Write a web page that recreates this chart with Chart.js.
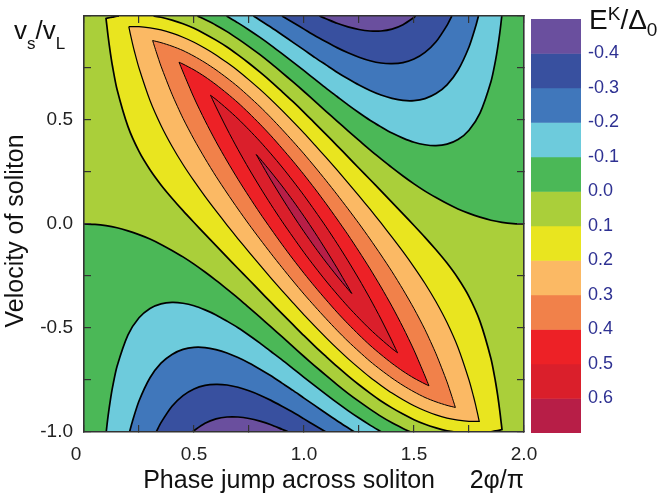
<!DOCTYPE html>
<html>
<head>
<meta charset="utf-8">
<script src="https://cdn.jsdelivr.net/npm/chart.js@4.4.1/dist/chart.umd.min.js"></script>
<style>
html,body{margin:0;padding:0;background:#fff;}
#wrap{position:relative;width:658px;height:498px;overflow:hidden;font-family:'Liberation Sans',Arial,Helvetica,sans-serif;}
#main{position:absolute;left:0;top:0;}
#cbar{position:absolute;left:531px;top:0;}
.lbl{position:absolute;white-space:nowrap;color:#111;}
.sb{font-size:17px;position:relative;top:10px;}
.sp2{font-size:19px;position:relative;top:-9px;}
.sb2{font-size:19px;position:relative;top:7px;}
</style>
</head>
<body>
<div id="wrap">
  <canvas id="main" width="658" height="498"></canvas>
  <canvas id="cbar" width="127" height="498"></canvas>
  <div class="lbl" style="left:14px;top:17px;font-size:26px;line-height:26px;">v<span class="sb">s</span>/v<span class="sb">L</span></div>
  <div class="lbl" style="left:589px;top:6px;font-size:28px;line-height:28px;">E<span class="sp2">K</span>/&Delta;<span class="sb2">0</span></div>
</div>
<script>
// ---------------- data (contour positions) ----------------
const X_RANGE = [0, 2];
const Y_RANGE = [-1, 1];
const X_TICK_VALUES = [0, 0.5, 1, 1.5, 2];
const X_TICK_LABELS = ['0\u2007 ', '0.5', '1.0', '1.5', '2.0'];
const Y_TICK_VALUES = [-1, -0.5, 0, 0.5];
const Y_TICK_LABELS = ['-1.0', '-0.5', '0.0', '0.5'];
const LEVELS = [-0.4, -0.3, -0.2, -0.1, 0.0, 0.1, 0.2, 0.3, 0.4, 0.5, 0.6];
const LEVEL_LABELS = ['-0.4', '-0.3', '-0.2', '-0.1', '0.0', '0.1', '0.2', '0.3', '0.4', '0.5', '0.6'];
const BAND_EDGES = [-0.5, -0.4, -0.3, -0.2, -0.1, 0.0, 0.1, 0.2, 0.3, 0.4, 0.5, 0.6, 0.7];
const BAND_COLORS = ['#6a4f9e', '#38509f', '#4077bb', '#6dcbdc', '#4bb857', '#aacf3a',
                     '#e9e51f', '#fbb964', '#f1814a', '#ed2126', '#da1f2b', '#b71e47'];

// contour E = -0.4 (lower and upper lobes)
const M04_LOW = [[0.493,-1.000],[0.500,-0.993],[0.550,-0.958],[0.600,-0.937],[0.650,-0.928],[0.700,-0.928],[0.750,-0.935],[0.800,-0.948],[0.850,-0.965],[0.900,-0.987],[0.930,-1.000]];
const M04_UP  = [[1.507,1.000],[1.500,0.993],[1.450,0.958],[1.400,0.937],[1.350,0.928],[1.300,0.928],[1.250,0.935],[1.200,0.948],[1.150,0.965],[1.100,0.987],[1.070,1.000]];
// contour E = -0.3
const M03_LOW = [[0.328,-1.000],[0.350,-0.955],[0.400,-0.876],[0.450,-0.825],[0.500,-0.793],[0.550,-0.776],[0.600,-0.771],[0.650,-0.774],[0.700,-0.785],[0.750,-0.802],[0.800,-0.823],[0.850,-0.848],[0.900,-0.876],[0.950,-0.905],[1.000,-0.937],[1.050,-0.969],[1.100,-1.000]];
const M03_UP  = [[1.672,1.000],[1.650,0.955],[1.600,0.876],[1.550,0.825],[1.500,0.793],[1.450,0.776],[1.400,0.771],[1.350,0.774],[1.300,0.785],[1.250,0.802],[1.200,0.823],[1.150,0.848],[1.100,0.876],[1.050,0.905],[1.000,0.937],[0.950,0.969],[0.900,1.000]];
// contour E = -0.2
const M02_LOW = [[0.207,-1.000],[0.220,-0.949],[0.250,-0.851],[0.300,-0.739],[0.350,-0.669],[0.400,-0.627],[0.450,-0.603],[0.500,-0.593],[0.550,-0.594],[0.600,-0.604],[0.650,-0.620],[0.700,-0.642],[0.750,-0.668],[0.800,-0.698],[0.850,-0.730],[0.900,-0.765],[0.950,-0.800],[1.000,-0.837],[1.050,-0.873],[1.100,-0.910],[1.150,-0.946],[1.200,-0.980],[1.230,-1.000]];
const M02_UP  = [[1.793,1.000],[1.780,0.949],[1.750,0.851],[1.700,0.739],[1.650,0.669],[1.600,0.627],[1.550,0.603],[1.500,0.593],[1.450,0.594],[1.400,0.604],[1.350,0.620],[1.300,0.642],[1.250,0.668],[1.200,0.698],[1.150,0.730],[1.100,0.765],[1.050,0.800],[1.000,0.837],[0.950,0.873],[0.900,0.910],[0.850,0.946],[0.800,0.980],[0.770,1.000]];
// contour E = -0.1
const M01_LOW = [[0.101,-1.000],[0.105,-0.962],[0.110,-0.919],[0.120,-0.845],[0.130,-0.783],[0.150,-0.685],[0.200,-0.533],[0.250,-0.451],[0.300,-0.406],[0.350,-0.384],[0.400,-0.377],[0.450,-0.381],[0.500,-0.393],[0.550,-0.413],[0.600,-0.437],[0.650,-0.467],[0.700,-0.499],[0.750,-0.535],[0.800,-0.573],[0.850,-0.613],[0.900,-0.653],[0.950,-0.695],[1.000,-0.737],[1.050,-0.778],[1.100,-0.819],[1.150,-0.859],[1.200,-0.897],[1.250,-0.933],[1.300,-0.967],[1.352,-1.000]];
const M01_UP  = [[1.899,1.000],[1.895,0.962],[1.890,0.919],[1.880,0.845],[1.870,0.783],[1.850,0.685],[1.800,0.533],[1.750,0.451],[1.700,0.406],[1.650,0.384],[1.600,0.377],[1.550,0.381],[1.500,0.393],[1.450,0.413],[1.400,0.437],[1.350,0.467],[1.300,0.499],[1.250,0.535],[1.200,0.573],[1.150,0.613],[1.100,0.653],[1.050,0.695],[1.000,0.737],[0.950,0.778],[0.900,0.819],[0.850,0.859],[0.800,0.897],[0.750,0.933],[0.700,0.967],[0.648,1.000]];
// contour E = 0.0
const Z0_LOW = [[0.000,0.000],[0.050,-0.002],[0.100,-0.008],[0.150,-0.018],[0.200,-0.033],[0.250,-0.051],[0.300,-0.072],[0.350,-0.098],[0.400,-0.127],[0.450,-0.158],[0.500,-0.193],[0.550,-0.231],[0.600,-0.271],[0.650,-0.313],[0.700,-0.356],[0.750,-0.402],[0.800,-0.448],[0.850,-0.495],[0.900,-0.542],[0.950,-0.590],[1.000,-0.637],[1.050,-0.683],[1.100,-0.728],[1.150,-0.772],[1.200,-0.814],[1.250,-0.853],[1.300,-0.890],[1.350,-0.925],[1.400,-0.956],[1.450,-0.983],[1.484,-1.000]];
const Z0_UP  = [[2.000,0.000],[1.950,0.002],[1.900,0.008],[1.850,0.018],[1.800,0.033],[1.750,0.051],[1.700,0.072],[1.650,0.098],[1.600,0.127],[1.550,0.158],[1.500,0.193],[1.450,0.231],[1.400,0.271],[1.350,0.313],[1.300,0.356],[1.250,0.402],[1.200,0.448],[1.150,0.495],[1.100,0.542],[1.050,0.590],[1.000,0.637],[0.950,0.683],[0.900,0.728],[0.850,0.772],[0.800,0.814],[0.750,0.853],[0.700,0.890],[0.650,0.925],[0.600,0.956],[0.550,0.983],[0.516,1.000]];
// contour E = 0.1 (two lines bounding the diagonal band; each has a corner near a plot corner)
const T1_LL = [[0.159,1.000],[0.150,0.999],[0.130,0.995],[0.120,0.993],[0.100,0.988],[0.100,0.988],[0.105,0.944],[0.110,0.899],[0.120,0.822],[0.130,0.756],[0.150,0.648],[0.200,0.468],[0.250,0.349],[0.300,0.261],[0.350,0.188],[0.400,0.124],[0.450,0.064],[0.500,0.007],[0.550,-0.049],[0.600,-0.104],[0.650,-0.159],[0.700,-0.214],[0.750,-0.268],[0.800,-0.323],[0.850,-0.377],[0.900,-0.431],[0.950,-0.484],[1.000,-0.537],[1.050,-0.588],[1.100,-0.637],[1.150,-0.685],[1.200,-0.730],[1.250,-0.773],[1.300,-0.813],[1.350,-0.851],[1.400,-0.884],[1.450,-0.914],[1.500,-0.941],[1.550,-0.963],[1.600,-0.980],[1.650,-0.994],[1.684,-1.000]];
const T1_UR = [[1.841,-1.000],[1.850,-0.999],[1.870,-0.995],[1.880,-0.993],[1.900,-0.988],[1.900,-0.988],[1.895,-0.944],[1.890,-0.899],[1.880,-0.822],[1.870,-0.756],[1.850,-0.648],[1.800,-0.468],[1.750,-0.349],[1.700,-0.261],[1.650,-0.188],[1.600,-0.124],[1.550,-0.064],[1.500,-0.007],[1.450,0.049],[1.400,0.104],[1.350,0.159],[1.300,0.214],[1.250,0.268],[1.200,0.323],[1.150,0.377],[1.100,0.431],[1.050,0.484],[1.000,0.537],[0.950,0.588],[0.900,0.637],[0.850,0.685],[0.800,0.730],[0.750,0.773],[0.700,0.813],[0.650,0.851],[0.600,0.884],[0.550,0.914],[0.500,0.941],[0.450,0.963],[0.400,0.980],[0.350,0.994],[0.316,1.000]];
// closed contours E = 0.2 ... 0.6 : lower-left side (upper tip -> lower tip), upper-right side (lower tip -> upper tip)
const L02_LL = [[0.2035,0.949],[0.210,0.917],[0.220,0.870],[0.230,0.827],[0.250,0.750],[0.300,0.594],[0.350,0.474],[0.400,0.374],[0.450,0.286],[0.500,0.207],[0.550,0.133],[0.600,0.063],[0.650,-0.005],[0.700,-0.071],[0.750,-0.135],[0.800,-0.198],[0.850,-0.260],[0.900,-0.320],[0.950,-0.379],[1.000,-0.437],[1.050,-0.492],[1.100,-0.546],[1.150,-0.598],[1.200,-0.647],[1.250,-0.693],[1.300,-0.737],[1.350,-0.776],[1.400,-0.813],[1.450,-0.845],[1.500,-0.874],[1.550,-0.898],[1.600,-0.918],[1.650,-0.933],[1.700,-0.943],[1.750,-0.949],[1.7965,-0.949]];
const L02_UR = [[1.7965,-0.949],[1.790,-0.917],[1.780,-0.870],[1.770,-0.827],[1.750,-0.750],[1.700,-0.594],[1.650,-0.474],[1.600,-0.374],[1.550,-0.286],[1.500,-0.207],[1.450,-0.133],[1.400,-0.063],[1.350,0.005],[1.300,0.071],[1.250,0.135],[1.200,0.198],[1.150,0.260],[1.100,0.320],[1.050,0.379],[1.000,0.437],[0.950,0.492],[0.900,0.546],[0.850,0.598],[0.800,0.647],[0.750,0.693],[0.700,0.737],[0.650,0.776],[0.600,0.813],[0.550,0.845],[0.500,0.874],[0.450,0.898],[0.400,0.918],[0.350,0.933],[0.300,0.943],[0.250,0.949],[0.2035,0.949]];
const L03_LL = [[0.312,0.882],[0.320,0.855],[0.330,0.822],[0.350,0.759],[0.400,0.624],[0.450,0.508],[0.500,0.407],[0.550,0.315],[0.600,0.229],[0.650,0.149],[0.700,0.072],[0.750,-0.002],[0.800,-0.073],[0.850,-0.142],[0.900,-0.209],[0.950,-0.274],[1.000,-0.337],[1.050,-0.397],[1.100,-0.455],[1.150,-0.511],[1.200,-0.564],[1.250,-0.613],[1.300,-0.660],[1.350,-0.702],[1.400,-0.741],[1.450,-0.776],[1.500,-0.807],[1.550,-0.834],[1.600,-0.855],[1.650,-0.872],[1.688,-0.882]];
const L03_UR = [[1.688,-0.882],[1.680,-0.855],[1.670,-0.822],[1.650,-0.759],[1.600,-0.624],[1.550,-0.508],[1.500,-0.407],[1.450,-0.315],[1.400,-0.229],[1.350,-0.149],[1.300,-0.072],[1.250,0.002],[1.200,0.073],[1.150,0.142],[1.100,0.209],[1.050,0.274],[1.000,0.337],[0.950,0.397],[0.900,0.455],[0.850,0.511],[0.800,0.564],[0.750,0.613],[0.700,0.660],[0.650,0.702],[0.600,0.741],[0.550,0.776],[0.500,0.807],[0.450,0.834],[0.400,0.855],[0.350,0.872],[0.312,0.882]];
const L04_LL = [[0.432,0.778],[0.440,0.757],[0.450,0.731],[0.500,0.607],[0.550,0.497],[0.600,0.396],[0.650,0.303],[0.700,0.215],[0.750,0.132],[0.800,0.052],[0.850,-0.024],[0.900,-0.098],[0.950,-0.169],[1.000,-0.237],[1.050,-0.302],[1.100,-0.364],[1.150,-0.424],[1.200,-0.480],[1.250,-0.533],[1.300,-0.583],[1.350,-0.628],[1.400,-0.670],[1.450,-0.708],[1.500,-0.741],[1.550,-0.769],[1.560,-0.774],[1.568,-0.778]];
const L04_UR = [[1.568,-0.778],[1.560,-0.757],[1.550,-0.731],[1.500,-0.607],[1.450,-0.497],[1.400,-0.396],[1.350,-0.303],[1.300,-0.215],[1.250,-0.132],[1.200,-0.052],[1.150,0.024],[1.100,0.098],[1.050,0.169],[1.000,0.237],[0.950,0.302],[0.900,0.364],[0.850,0.424],[0.800,0.480],[0.750,0.533],[0.700,0.583],[0.650,0.628],[0.600,0.670],[0.550,0.708],[0.500,0.741],[0.450,0.769],[0.440,0.774],[0.432,0.778]];
const L05_LL = [[0.575,0.619],[0.580,0.608],[0.600,0.563],[0.650,0.457],[0.700,0.358],[0.750,0.265],[0.800,0.177],[0.850,0.093],[0.900,0.013],[0.950,-0.063],[1.000,-0.137],[1.050,-0.207],[1.100,-0.274],[1.150,-0.337],[1.200,-0.397],[1.250,-0.453],[1.300,-0.506],[1.350,-0.554],[1.400,-0.599],[1.420,-0.615],[1.425,-0.619]];
const L05_UR = [[1.425,-0.619],[1.420,-0.608],[1.400,-0.563],[1.350,-0.457],[1.300,-0.358],[1.250,-0.265],[1.200,-0.177],[1.150,-0.093],[1.100,-0.013],[1.050,0.063],[1.000,0.137],[0.950,0.207],[0.900,0.274],[0.850,0.337],[0.800,0.397],[0.750,0.453],[0.700,0.506],[0.650,0.554],[0.600,0.599],[0.580,0.615],[0.575,0.619]];
const L06_LL = [[0.783,0.334],[0.800,0.302],[0.850,0.211],[0.900,0.125],[0.950,0.042],[1.000,-0.037],[1.050,-0.112],[1.100,-0.183],[1.150,-0.250],[1.200,-0.314],[1.217,-0.334]];
const L06_UR = [[1.217,-0.334],[1.200,-0.302],[1.150,-0.211],[1.100,-0.125],[1.050,-0.042],[1.000,0.037],[0.950,0.112],[0.900,0.183],[0.850,0.250],[0.800,0.314],[0.783,0.334]];

// ---------------- building the chart ----------------
const FONT = "'Liberation Sans', Arial, Helvetica, sans-serif";
const TENSION = 0.25;
const INK = '#000';
const FRAME = '#333';
const toPts = a => a.map(p => ({x: p[0], y: p[1]}));
const last = a => a[a.length - 1];
const band = lv => BAND_COLORS[BAND_EDGES.indexOf(lv)];   // colour of the band starting at level lv

const painted = [];
function addFill(arr, color) {
  painted.push({data: toPts(arr), showLine: true, fill: 'shape', backgroundColor: color,
    borderColor: 'rgba(0,0,0,0)', borderWidth: 1, pointRadius: 0, pointHoverRadius: 0,
    tension: TENSION, xAxisID: 'x', yAxisID: 'y'});
}
function addLine(arr, w) {
  painted.push({data: toPts(arr), showLine: true, fill: false, borderColor: INK, borderWidth: w,
    pointRadius: 0, pointHoverRadius: 0, tension: TENSION, xAxisID: 'x', yAxisID: 'y'});
}
const CORNER_BL = [X_RANGE[0], Y_RANGE[0]];
const CORNER_TR = [X_RANGE[1], Y_RANGE[1]];

// regions below 0.0
addFill([...Z0_LOW, last(Z0_LOW), CORNER_BL], band(-0.1));
addFill([...Z0_UP, last(Z0_UP), CORNER_TR], band(-0.1));
addFill(M01_LOW, band(-0.2)); addFill(M01_UP, band(-0.2));
addFill(M02_LOW, band(-0.3)); addFill(M02_UP, band(-0.3));
addFill(M03_LOW, band(-0.4)); addFill(M03_UP, band(-0.4));
addFill(M04_LOW, band(-0.5)); addFill(M04_UP, band(-0.5));
// regions above 0.1
addFill([...T1_LL, last(T1_LL), T1_UR[0], ...T1_UR], band(0.1));
addFill([...L02_LL, ...L02_UR], band(0.2));
addFill([...L03_LL, ...L03_UR], band(0.3));
addFill([...L04_LL, ...L04_UR], band(0.4));
addFill([...L05_LL, ...L05_UR], band(0.5));
addFill([...L06_LL, ...L06_UR], band(0.6));
// contour lines
[M04_LOW, M04_UP, M03_LOW, M03_UP, M02_LOW, M02_UP, M01_LOW, M01_UP, Z0_LOW, Z0_UP, T1_LL, T1_UR]
  .forEach(a => addLine(a, 1.7));
addLine([...L02_LL, ...L02_UR], 1.2);
[[L03_LL, L03_UR], [L04_LL, L04_UR], [L05_LL, L05_UR], [L06_LL, L06_UR]]
  .forEach(([a, b]) => addLine([...a, ...b], 1.0));
painted.forEach((d, i) => { d.order = painted.length - i; });

const labelFor = (v, vals, labs) => {
  const i = vals.findIndex(t => Math.abs(t - v) < 1e-6);
  return i < 0 ? '' : labs[i];
};
const gridOpts = {drawOnChartArea: false, drawTicks: true, tickLength: -7, color: FRAME, lineWidth: 1.2, z: 1};
const borderOpts = {display: true, color: FRAME, width: 1.6, z: 2};
const tickFont = {family: FONT, size: 19};
const fitX = h => s => { s.height = h; s.paddingLeft = 0; s.paddingRight = 0; s.paddingTop = 0; s.paddingBottom = 0; };
const fitY = w => s => { s.width = w; s.paddingLeft = 0; s.paddingRight = 0; s.paddingTop = 0; s.paddingBottom = 0; };

const bgPlugin = {
  id: 'plotBackground',
  beforeDatasetsDraw(chart) {
    const {ctx, chartArea: a} = chart;
    ctx.save();
    ctx.fillStyle = band(0.0);
    ctx.fillRect(a.left, a.top, a.right - a.left, a.bottom - a.top);
    ctx.restore();
  }
};

new Chart(document.getElementById('main'), {
  type: 'scatter',
  data: {datasets: painted},
  plugins: [bgPlugin],
  options: {
    responsive: false, animation: false, events: [],
    layout: {padding: 0},
    plugins: {legend: {display: false}, tooltip: {enabled: false}},
    scales: {
      x: {type: 'linear', position: 'bottom', min: X_RANGE[0], max: X_RANGE[1],
        ticks: {stepSize: 0.25, autoSkip: false, maxRotation: 0, padding: 18, color: '#222', font: tickFont,
          callback: v => labelFor(v, X_TICK_VALUES, X_TICK_LABELS)},
        grid: gridOpts, border: borderOpts,
        title: {display: true, text: 'Phase jump across soliton     2\u03C6/\u03C0', align: 'end',
          color: '#111', font: {family: FONT, size: 25}, padding: {top: 0, bottom: 1.7}},
        afterFit: fitX(66)},
      x2: {type: 'linear', position: 'top', min: X_RANGE[0], max: X_RANGE[1],
        ticks: {stepSize: 0.25, autoSkip: false, maxRotation: 0, callback: () => ''},
        grid: gridOpts, border: borderOpts,
        afterFit: fitX(16)},
      y: {type: 'linear', position: 'left', min: Y_RANGE[0], max: Y_RANGE[1],
        ticks: {stepSize: 0.25, autoSkip: false, padding: 18, color: '#222', font: tickFont,
          callback: v => labelFor(v, Y_TICK_VALUES, Y_TICK_LABELS)},
        grid: gridOpts, border: borderOpts,
        title: {display: true, text: 'Velocity of soliton  ', color: '#111',
          font: {family: FONT, size: 25}, padding: {top: 1.3, bottom: 0}},
        afterFit: fitY(84)},
      y2: {type: 'linear', position: 'right', min: Y_RANGE[0], max: Y_RANGE[1],
        ticks: {stepSize: 0.25, autoSkip: false, callback: () => ''},
        grid: gridOpts, border: borderOpts,
        afterFit: fitY(134)}
    }
  }
});

// ---------------- colour bar ----------------
new Chart(document.getElementById('cbar'), {
  type: 'bar',
  data: {
    labels: [''],
    datasets: BAND_COLORS.map((c, i) => ({
      data: [[BAND_EDGES[i], BAND_EDGES[i + 1]]], backgroundColor: c, borderWidth: 0,
      barPercentage: 1, categoryPercentage: 1, grouped: false
    }))
  },
  options: {
    responsive: false, animation: false, events: [],
    layout: {padding: {top: 19, bottom: 65, left: 0, right: 0}},
    plugins: {legend: {display: false}, tooltip: {enabled: false}},
    scales: {
      x: {display: false},
      y: {position: 'right', reverse: true, min: BAND_EDGES[0], max: last(BAND_EDGES),
        ticks: {stepSize: 0.1, autoSkip: false, padding: 7, color: '#2e3192', font: {family: FONT, size: 18},
          callback: v => labelFor(v, LEVELS, LEVEL_LABELS)},
        grid: {display: false, drawTicks: false}, border: {display: false},
        afterFit: s => { s.width = 77; s.paddingTop = 0; s.paddingBottom = 0; }}
    }
  }
});
</script>
</body>
</html>
